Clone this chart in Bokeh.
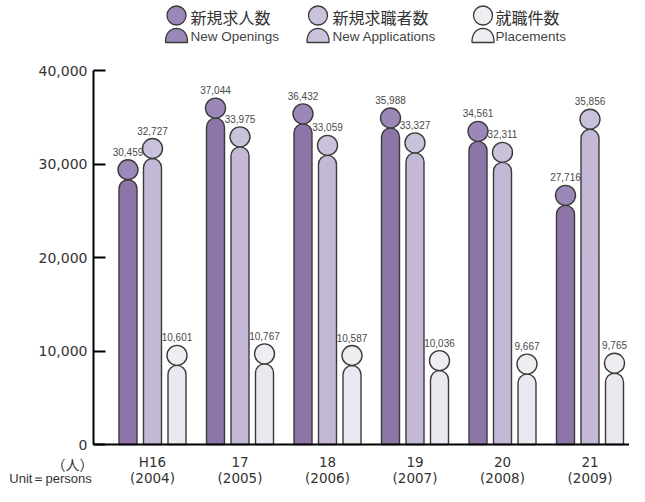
from bokeh.plotting import figure
from bokeh.models import Range1d, FixedTicker, Label, NumeralTickFormatter
from bokeh.embed import file_html
from bokeh.resources import INLINE
from bokeh.core.properties import value
import numpy as np

# ---------------- data ----------------
year_labels = ["H16\n(2004)", "17\n(2005)", "18\n(2006)", "19\n(2007)", "20\n(2008)", "21\n(2009)"]
openings = [30459, 37044, 36432, 35988, 34561, 27716]
applications = [32727, 33975, 33059, 33327, 32311, 35856]
placements = [10601, 10767, 10587, 10036, 9667, 9765]
names_ja = ["新規求人数", "新規求職者数", "就職件数"]
names_en = ["New Openings", "New Applications", "Placements"]
y_ticks = [0, 10000, 20000, 30000, 40000]
unit_ja = "（人）"
unit_en = "Unit＝persons"

# ---------------- style / layout (screen pixels) ----------------
body_colors = ["#8d75a8", "#c3b8d5", "#ebe9f0"]
head_colors = ["#9c88b8", "#cac1db", "#efedf2"]
outline = "#3a3a3a"
NUM_FONT = "Liberation Sans"
AX_FONT = "DejaVu Sans"
JP_FONT = "Noto Sans CJK JP"

W, H = 629, 486          # canvas size
AXIS_SX = 93             # canvas x of y axis
ZERO_SY = 444            # canvas y of value 0
TOP_SY = 70              # canvas y of top tick
G0_SX = 152              # canvas x of first group centre
GROUP_PX = 87.5
BAR_PX = 18.0
STEP_PX = 24.5
HEAD_PX = 20.0

y_max = y_ticks[-1]
ypp = y_max / (ZERO_SY - TOP_SY)
xpp = 1.0 / GROUP_PX


def X(sx):
    return (np.asarray(sx, dtype=float) - G0_SX) * xpp


def Y(sy):
    return (ZERO_SY - np.asarray(sy, dtype=float)) * ypp


p = figure(width=W, height=H, frame_width=W, frame_height=H, min_border=0,
           x_range=Range1d(float(X(0)), float(X(W))), y_range=Range1d(float(Y(H)), float(Y(0))),
           output_backend="svg", toolbar_location=None)
p.outline_line_color = None
p.xgrid.visible = False
p.ygrid.visible = False
p.background_fill_color = "white"

xs = np.arange(len(year_labels))
series = [openings, applications, placements]
for k, vals in enumerate(series):
    vals = np.array(vals, dtype=float)
    xk = xs + (k - 1) * STEP_PX * xpp
    p.vbar(x=xk, bottom=0, top=vals - HEAD_PX * ypp, width=BAR_PX * xpp,
           fill_color=body_colors[k], line_color=outline, line_width=1.4,
           border_radius=(9, 9, 0, 0))
    p.scatter(x=xk, y=vals - HEAD_PX / 2 * ypp, size=HEAD_PX, marker="circle",
              fill_color=head_colors[k], line_color=outline, line_width=1.4)
    p.text(x=xk, y=vals + 4 * ypp, text=["{:,}".format(int(v)) for v in vals],
           text_align="center", text_baseline="bottom",
           text_font=value(NUM_FONT), text_font_size="10px", text_color="#4a4a4a")

# y axis
p.yaxis.fixed_location = float(X(AXIS_SX))
p.yaxis.bounds = (0, y_max)
p.yaxis.ticker = FixedTicker(ticks=y_ticks)
p.yaxis.formatter = NumeralTickFormatter(format="0,0")
p.yaxis.major_tick_in = 12
p.yaxis.major_tick_out = 0
p.yaxis.minor_tick_line_color = None
p.yaxis.axis_line_width = 2
p.yaxis.axis_line_color = "black"
p.yaxis.major_tick_line_width = 2
p.yaxis.major_tick_line_color = "black"
p.yaxis.major_label_standoff = 6
p.yaxis.major_label_text_font = AX_FONT
p.yaxis.major_label_text_font_size = "14px"
p.yaxis.major_label_text_color = "#333333"

# x axis
p.xaxis.fixed_location = 0
p.xaxis.bounds = (float(X(AXIS_SX)), float(X(W)))
p.xaxis.ticker = FixedTicker(ticks=list(xs))
p.xaxis.major_label_overrides = {int(i): lab for i, lab in zip(xs, year_labels)}
p.xaxis.major_tick_in = 0
p.xaxis.major_tick_out = 0
p.xaxis.minor_tick_line_color = None
p.xaxis.axis_line_width = 2
p.xaxis.axis_line_color = "black"
p.xaxis.major_label_standoff = 9
p.xaxis.major_label_text_font = AX_FONT
p.xaxis.major_label_text_font_size = "13.5px"
p.xaxis.major_label_text_line_height = 1.0
p.xaxis.major_label_text_color = "#333333"

# unit labels
p.add_layout(Label(x=float(X(72)), y=float(Y(463)), text=unit_ja,
                   text_align="center", text_baseline="middle",
                   text_font=JP_FONT, text_font_size="14px", text_color="#333333"))
p.add_layout(Label(x=float(X(50)), y=float(Y(478)), text=unit_en,
                   text_align="center", text_baseline="middle",
                   text_font=NUM_FONT, text_font_size="13px", text_color="#333333"))

# legend (pixel-placed icons)
icon_cx = [176, 317.5, 482.5]
text_x = [190, 332, 495]
t = np.linspace(0, np.pi, 40)
for k in range(3):
    cx = icon_cx[k]
    sx = cx + 11 * np.cos(t)
    sy = 42 - 14 * np.sin(t) ** 0.8
    p.patch(x=list(X(sx)), y=list(Y(sy)), fill_color=head_colors[k],
            line_color=outline, line_width=1.3)
    p.scatter(x=[float(X(cx))], y=[float(Y(15))], size=19, marker="circle",
              fill_color=head_colors[k], line_color=outline, line_width=1.3)
    p.text(x=[float(X(text_x[k]))], y=[float(Y(16))], text=[names_ja[k]], text_baseline="middle",
           text_font=value(JP_FONT), text_font_size="16px", text_color="#333333")
    p.text(x=[float(X(text_x[k]))], y=[float(Y(36))], text=[names_en[k]], text_baseline="middle",
           text_font=value(NUM_FONT), text_font_size="13.5px", text_color="#444444")

open("out.html", "w").write(file_html(p, INLINE))
